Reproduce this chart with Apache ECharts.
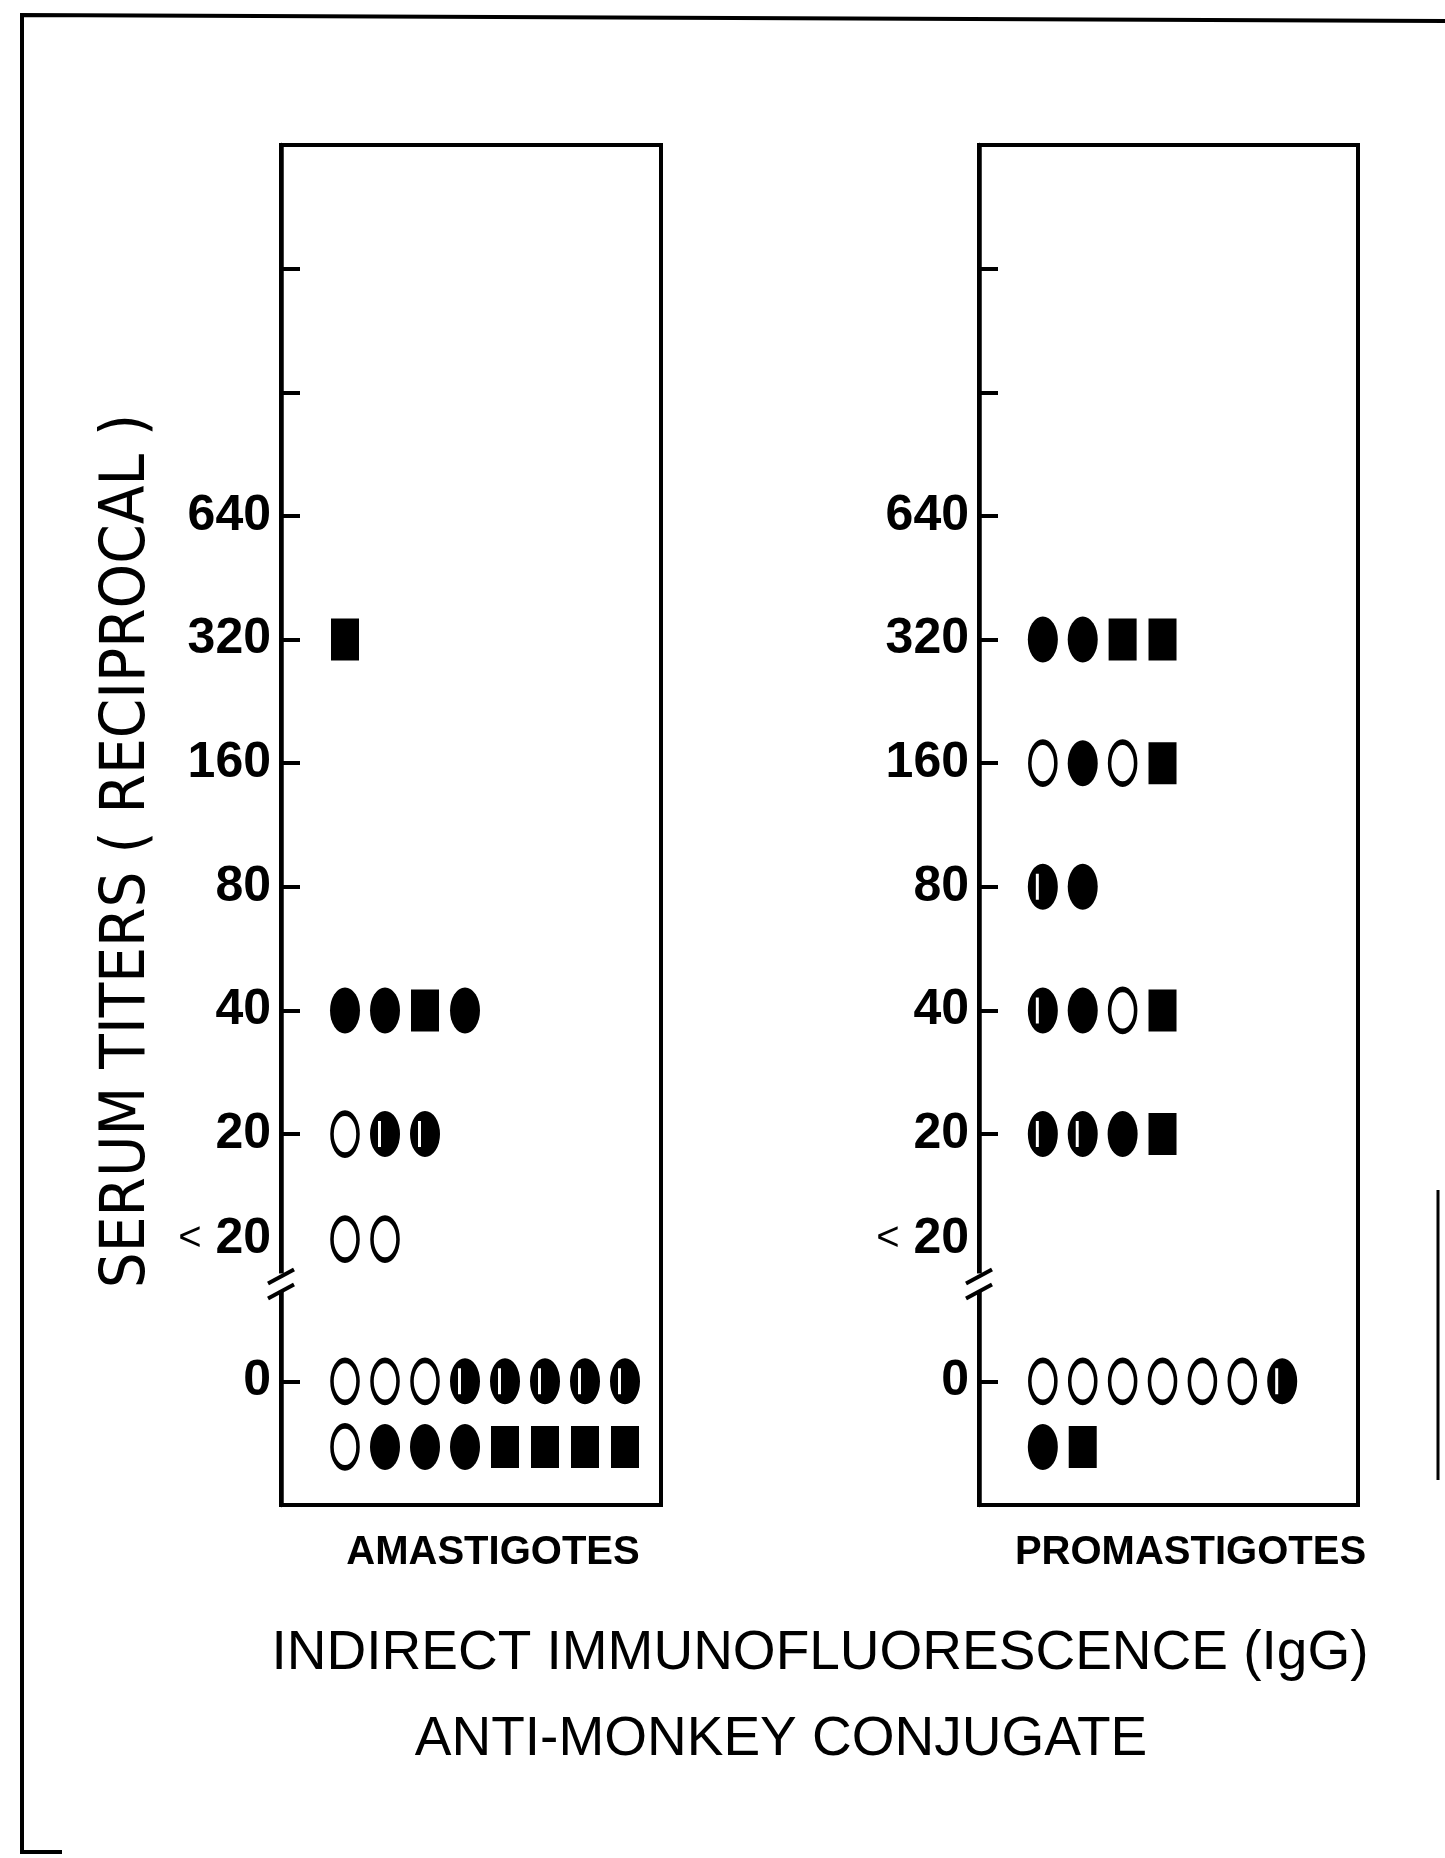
<!DOCTYPE html>
<html>
<head>
<meta charset="utf-8">
<script src="https://cdn.jsdelivr.net/npm/echarts@6/dist/echarts.min.js"></script>
<style>
  html, body { margin: 0; padding: 0; background: #fff; }
  #chart { width: 1445px; height: 1858px; }
</style>
</head>
<body>
<div id="chart"></div>
<script>
// ---------- data ----------
// Y-axis tick labels (titers) and extra unlabeled ticks above 640
const yTickLabels = ['0', '<20', '20', '40', '80', '160', '320', '640'];
const unlabeledTickTiters = [1280, 2560];

// Panel names
const panelNames = ['AMASTIGOTES', 'PROMASTIGOTES'];

// Marker kinds: open = open circle, filled = solid circle,
// slit = solid circle with light streak, square = solid square
// Amastigotes: one row per titer line (a repeated titer = continuation line)
const amastigoteRowTiters = ['320', '40', '20', '<20', '0', '0'];
const amastigoteRowMarkers = [
  ['square'],
  ['filled', 'filled', 'square', 'filled'],
  ['open', 'slit', 'slit'],
  ['open', 'open'],
  ['open', 'open', 'open', 'slit', 'slit', 'slit', 'slit', 'slit'],
  ['open', 'filled', 'filled', 'filled', 'square', 'square', 'square', 'square']
];

// Promastigotes
const promastigoteRowTiters = ['320', '160', '80', '40', '20', '0', '0'];
const promastigoteRowMarkers = [
  ['filled', 'filled', 'square', 'square'],
  ['open', 'filled', 'open', 'square'],
  ['slit', 'filled'],
  ['slit', 'filled', 'open', 'square'],
  ['slit', 'slit', 'filled', 'square'],
  ['open', 'open', 'open', 'open', 'open', 'open', 'slit'],
  ['filled', 'square']
];

const bottomTitle1 = 'INDIRECT IMMUNOFLUORESCENCE (IgG)';
const bottomTitle2 = 'ANTI-MONKEY CONJUGATE';
const yAxisTitle = 'SERUM TITERS ( RECIPROCAL )';

// ---------- scale mapping (titer -> axis level) ----------
function levelOf(t) {
  if (t === '0') return -2;
  if (t === '<20') return -0.85;
  return Math.log2(Number(t) / 20);
}
const CONT_LINE_STEP = 0.53;
const BREAK_LEVEL = -1.2;

function labelFor(v) {
  for (const t of yTickLabels) {
    if (Math.abs(levelOf(t) - v) < 0.01) return t;
  }
  return '';
}

const labelValues = yTickLabels.map(levelOf);
const tickValues = yTickLabels.filter(t => t !== '<20').map(levelOf)
  .concat(unlabeledTickTiters.map(t => levelOf(String(t))));

// ---------- symbols ----------
const ELLIPSE = 'path://M15 0A15 23 0 1 1 15 46A15 23 0 1 1 15 0Z';
const ELLIPSE_SLIT = 'path://M15 0A15 23 0 1 1 15 46A15 23 0 1 1 15 0Z M8 10L8 36L11 36L11 10Z';
const kinds = {
  open:   { symbol: ELLIPSE, size: [26, 42], style: { color: '#fff', borderColor: '#000', borderWidth: 4.5, opacity: 1 } },
  filled: { symbol: ELLIPSE, size: [30, 46], style: { color: '#000', opacity: 1 } },
  slit:   { symbol: ELLIPSE_SLIT, size: [30, 46], style: { color: '#000', opacity: 1 } },
  square: { symbol: 'rect', size: [28, 42], style: { color: '#000', opacity: 1 } }
};

function buildSeries(rowTiters, rowMarkers, gridIndex) {
  const buckets = {};
  const seen = {};
  rowTiters.forEach((t, r) => {
    const line = seen[t] || 0;
    seen[t] = line + 1;
    const y = levelOf(t) - line * CONT_LINE_STEP;
    rowMarkers[r].forEach((k, c) => {
      (buckets[k] = buckets[k] || []).push([c, y]);
    });
  });
  return Object.keys(buckets).map(k => ({
    type: 'scatter',
    name: panelNames[gridIndex] + ' ' + k,
    xAxisIndex: gridIndex,
    yAxisIndex: gridIndex,
    symbol: kinds[k].symbol,
    symbolSize: kinds[k].size,
    itemStyle: kinds[k].style,
    emphasis: { disabled: true },
    data: buckets[k],
    z: 5
  }));
}

const FONT = "'Liberation Sans', 'Arimo', 'DejaVu Sans', sans-serif";
const FONT_NARROW = "'Liberation Sans Narrow', 'DejaVu Sans Condensed', 'Liberation Sans', sans-serif";

const grids = [
  { left: 281, top: 145, width: 380, height: 1360 },
  { left: 979, top: 145, width: 379, height: 1360 }
];

function makeYAxis(i) {
  return {
    type: 'value',
    gridIndex: i,
    min: -3, max: 8,
    splitLine: { show: false },
    axisLine: { show: true, onZero: false, lineStyle: { color: '#000', width: 4.5 } },
    axisTick: {
      show: true, inside: true, length: 19,
      customValues: tickValues,
      lineStyle: { color: '#000', width: 4 }
    },
    axisLabel: {
      show: true,
      customValues: labelValues,
      margin: 10,
      color: '#000',
      fontFamily: FONT,
      fontWeight: 'bold',
      fontSize: 50,
      formatter: v => {
        const l = labelFor(v);
        if (l === '<20') return '{lt|<} {b|20}';
        return '{b|' + l + '}';
      },
      rich: {
        lt: { fontFamily: FONT, fontWeight: 'normal', fontSize: 40, color: '#000' },
        b: { fontFamily: FONT, fontWeight: 'bold', fontSize: 50, color: '#000' }
      }
    },
    name: i === 0 ? yAxisTitle : '',
    nameLocation: 'middle',
    nameRotate: 90,
    nameGap: 122,
    nameTextStyle: {
      fontFamily: FONT_NARROW, fontSize: 63, color: '#000',
      padding: [0, 52, 0, 0]
    }
  };
}

function makeXAxis(i) {
  return {
    type: 'value',
    gridIndex: i,
    min: -1.6, max: 7.9,
    splitLine: { show: false },
    axisLine: { show: false },
    axisTick: { show: false },
    axisLabel: { show: false },
    name: panelNames[i],
    nameLocation: 'middle',
    nameGap: 28,
    nameTextStyle: {
      fontFamily: FONT, fontWeight: 'bold', fontSize: 40, color: '#000',
      padding: [0, 0, 0, 44]
    }
  };
}

const chart = echarts.init(document.getElementById('chart'), null, { renderer: 'canvas' });

const option = {
  animation: false,
  backgroundColor: '#fff',
  title: [
    { text: bottomTitle1, left: 820, top: 1626, textAlign: 'center', padding: 0,
      textStyle: { fontFamily: FONT, fontWeight: 'normal', fontSize: 55, color: '#000' } },
    { text: bottomTitle2, left: 781, top: 1712, textAlign: 'center', padding: 0,
      textStyle: { fontFamily: FONT, fontWeight: 'normal', fontSize: 55, color: '#000' } }
  ],
  grid: grids.map(g => Object.assign({ show: true, borderColor: '#000', borderWidth: 4, backgroundColor: 'transparent', containLabel: false }, g)),
  xAxis: [makeXAxis(0), makeXAxis(1)],
  yAxis: [makeYAxis(0), makeYAxis(1)],
  series: buildSeries(amastigoteRowTiters, amastigoteRowMarkers, 0)
    .concat(buildSeries(promastigoteRowTiters, promastigoteRowMarkers, 1))
};
chart.setOption(option);

// ---------- decorations: outer frame and axis-break marks ----------
const graphics = [
  { type: 'polyline', shape: { points: [[1445, 21], [22, 15], [22, 1852], [62, 1852]] },
    style: { stroke: '#000', lineWidth: 4, fill: null }, z: 10 },
  { type: 'line', shape: { x1: 1438, y1: 1190, x2: 1438, y2: 1480 },
    style: { stroke: '#000', lineWidth: 3 }, z: 10 }
];
[0, 1].forEach(i => {
  const p = chart.convertToPixel({ gridIndex: i }, [-1.6, BREAK_LEVEL]);
  const x = p[0], y = p[1];
  graphics.push(
    { type: 'rect', shape: { x: x - 5, y: y - 9, width: 10, height: 18 },
      style: { fill: '#fff' }, z: 20 },
    { type: 'line', shape: { x1: x - 13, y1: y + 1, x2: x + 13, y2: y - 13 },
      style: { stroke: '#000', lineWidth: 4 }, z: 21 },
    { type: 'line', shape: { x1: x - 13, y1: y + 16, x2: x + 13, y2: y + 2 },
      style: { stroke: '#000', lineWidth: 4 }, z: 21 }
  );
});
chart.setOption({ graphic: graphics });
</script>
</body>
</html>
